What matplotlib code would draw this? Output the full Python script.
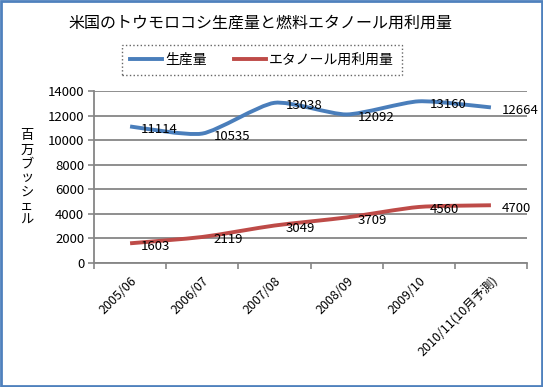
import numpy as np
import matplotlib.pyplot as plt
from matplotlib.path import Path
from matplotlib.patches import PathPatch, Rectangle
from matplotlib.lines import Line2D

plt.rcParams['font.family'] = ['Noto Sans CJK JP', 'DejaVu Sans']

# データ
categories = ['2005/06', '2006/07', '2007/08', '2008/09', '2009/10', '2010/11(10月予測)']
production = [11114, 10535, 13038, 12092, 13160, 12664]
ethanol = [1603, 2119, 3049, 3709, 4560, 4700]
series_names = ['生産量', 'エタノール用利用量']
colors = ['#4a7ebb', '#be4b48']


def smooth_path(xs, ys, k=0.11):
    # Excel風のスムージング（ベジェ曲線）
    pts = np.column_stack([xs, ys]).astype(float)
    n = len(pts)
    verts = [pts[0]]
    codes = [Path.MOVETO]
    for i in range(n - 1):
        p0 = pts[max(i - 1, 0)]
        p1 = pts[i]
        p2 = pts[i + 1]
        p3 = pts[min(i + 2, n - 1)]
        c1 = p1 + (p2 - p0) * k
        c2 = p2 - (p3 - p1) * k
        verts += [c1, c2, p2]
        codes += [Path.CURVE4] * 3
    return Path(verts, codes)


fig = plt.figure(figsize=(5.43, 3.87), dpi=100)
fig.patches.append(Rectangle((0.002, 0.003), 0.996, 0.994, transform=fig.transFigure,
                             fill=False, edgecolor='#4f81bd', linewidth=2))

ax = fig.add_axes([94 / 543, 1 - 263 / 387, 433 / 543, 172 / 387])
x = np.arange(len(categories)) + 0.5

for vals, col in [(production, colors[0]), (ethanol, colors[1])]:
    ax.add_patch(PathPatch(smooth_path(x, vals), fill=False, edgecolor=col,
                           linewidth=2.8, capstyle='butt', zorder=3))
    for xi, v in zip(x, vals):
        ax.annotate(str(v), (xi, v), xytext=(8, -2), textcoords='offset points',
                    ha='left', va='center', fontsize=9.5, zorder=4)

ax.set_xlim(0, len(categories))
ax.set_ylim(0, 14000)
ax.set_yticks(np.arange(0, 14001, 2000))
ax.tick_params(axis='y', labelsize=9.5, length=4, color='#868686', width=1.2, pad=3)
ax.set_xticks(np.arange(0, len(categories) + 1))
ax.set_xticklabels([])
ax.set_xticks(x, minor=True)
ax.set_xticklabels(categories, minor=True, rotation=45, ha='right', va='top',
                   rotation_mode='anchor', fontsize=9)
ax.tick_params(axis='x', which='major', length=4, color='#868686', width=1.2)
ax.tick_params(axis='x', which='minor', length=0, pad=8)

ax.grid(axis='y', color='#868686', linewidth=1.3)
ax.set_axisbelow(True)
for s in ['top', 'right']:
    ax.spines[s].set_visible(False)
for s in ['left', 'bottom']:
    ax.spines[s].set_color('#868686')
    ax.spines[s].set_linewidth(1.3)

# 縦書きの軸ラベル
fig.text(27 / 543, 1 - 178 / 387, '\n'.join('百万ブッシェル'), ha='center', va='center',
         fontsize=9.5, linespacing=1.1)

fig.text(260 / 543, 1 - 23 / 387, '米国のトウモロコシ生産量と燃料エタノール用利用量',
         ha='center', va='center', fontsize=11.5)

# 凡例
handles = [Line2D([], [], color=c, linewidth=2.8) for c in colors]
leg = fig.legend(handles, series_names, loc='center', bbox_to_anchor=(262 / 543, 1 - 60 / 387),
                 ncol=2, frameon=True, fontsize=10, handlelength=2.3, columnspacing=2.0,
                 handletextpad=0.2, borderpad=0.6)
leg.get_frame().set_linestyle(':')
leg.get_frame().set_edgecolor('#404040')
leg.get_frame().set_boxstyle('square', pad=0)

fig.savefig('out.png', dpi=100)
